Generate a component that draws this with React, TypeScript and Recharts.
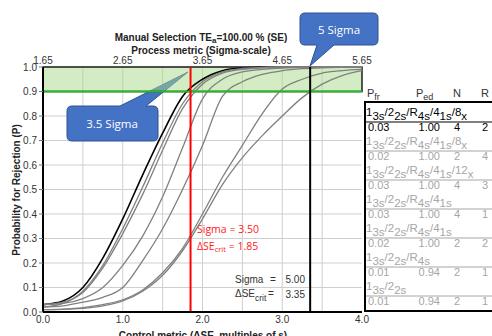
import React from 'react';
import {
  ComposedChart,
  Line,
  XAxis,
  YAxis,
  CartesianGrid,
  ReferenceArea,
  ReferenceLine,
  Customized,
} from 'recharts';

// control metric (ΔSE, multiples of s)
const DELTA_SE = [0, 0.25, 0.5, 0.75, 1, 1.25, 1.5, 1.75, 2, 2.25, 2.5, 2.75, 3, 3.25, 3.5, 3.75, 4];

// probability for rejection, one array per QC procedure (table order)
const P_8X_N4R2 = [0.03, 0.045, 0.1, 0.22, 0.38, 0.56, 0.73, 0.88, 0.95, 0.985, 0.996, 0.999, 1, 1, 1, 1, 1];
const P_8X_N2R4 = [0.02, 0.035, 0.085, 0.19, 0.34, 0.51, 0.69, 0.85, 0.94, 0.98, 0.994, 0.998, 1, 1, 1, 1, 1];
const P_12X_N4R3 = [0.03, 0.04, 0.08, 0.18, 0.32, 0.48, 0.66, 0.83, 0.93, 0.975, 0.99, 0.997, 1, 1, 1, 1, 1];
const P_41S_N4R1 = [0.03, 0.035, 0.055, 0.1, 0.19, 0.31, 0.47, 0.67, 0.87, 0.95, 0.98, 0.99, 0.996, 0.998, 1, 1, 1];
const P_41S_N2R2 = [0.02, 0.025, 0.04, 0.06, 0.1, 0.21, 0.34, 0.5, 0.68, 0.88, 0.94, 0.97, 0.985, 0.993, 0.997, 0.999, 1];
const P_R4S_N2R1 = [0.01, 0.012, 0.018, 0.03, 0.05, 0.09, 0.16, 0.26, 0.4, 0.55, 0.68, 0.81, 0.91, 0.95, 0.975, 0.985, 0.99];
const P_22S_N2R1 = [0.01, 0.011, 0.015, 0.025, 0.045, 0.085, 0.15, 0.25, 0.38, 0.52, 0.63, 0.72, 0.8, 0.875, 0.93, 0.965, 0.985];

const X_TICKS = [0, 1, 2, 3, 4];
// sigma scale = ΔSE + 1.65
const SIGMA_OFFSET = 1.65;
const Y_TICKS = [0, 0.1, 0.2, 0.3, 0.4, 0.5, 0.6, 0.7, 0.8, 0.9, 1];
const GRID_X = [0.5, 1, 1.5, 2, 2.5, 3, 3.5];

const SIGMA_LOW = 3.5;
const SE_CRIT_LOW = 1.85;
const SIGMA_HIGH = 5.0;
const SE_CRIT_HIGH = 3.35;
const P_TARGET = 0.9;

// table on the right
const RULES = [
  [['1', '3s'], ['/2', '2s'], ['/R', '4s'], ['/4', '1s'], ['/8', 'x']],
  [['1', '3s'], ['/2', '2s'], ['/R', '4s'], ['/4', '1s'], ['/8', 'x']],
  [['1', '3s'], ['/2', '2s'], ['/R', '4s'], ['/4', '1s'], ['/12', 'x']],
  [['1', '3s'], ['/2', '2s'], ['/R', '4s'], ['/4', '1s']],
  [['1', '3s'], ['/2', '2s'], ['/R', '4s'], ['/4', '1s']],
  [['1', '3s'], ['/2', '2s'], ['/R', '4s']],
  [['1', '3s'], ['/2', '2s']],
];
const P_FR = ['0.03', '0.02', '0.03', '0.03', '0.02', '0.01', '0.01'];
const P_ED = ['1.00', '1.00', '1.00', '1.00', '1.00', '0.94', '0.94'];
const N_CTRL = ['4', '2', '4', '4', '2', '2', '2'];
const R_RUNS = ['2', '4', '3', '1', '2', '1', '1'];

const SERIES = ['a', 'b', 'c', 'd', 'e', 'f', 'g'];
const data = DELTA_SE.map((x, i) => ({
  x,
  a: P_8X_N4R2[i],
  b: P_8X_N2R4[i],
  c: P_12X_N4R3[i],
  d: P_41S_N4R1[i],
  e: P_41S_N2R2[i],
  f: P_R4S_N2R1[i],
  g: P_22S_N2R1[i],
}));

const ARIAL = 'Liberation Sans, Arial, sans-serif';
const CALIBRI = 'Open Sans, Noto Sans, sans-serif';

function Table() {
  const left = 366;
  return (
    <g fontFamily={ARIAL}>
      <text x={367} y={97} fontSize={11} fill="#333">
        P<tspan fontSize={9} dy={3}>fr</tspan>
      </text>
      <text x={416} y={97} fontSize={11} fill="#333">
        P<tspan fontSize={9} dy={3}>ed</tspan>
      </text>
      <text x={457} y={97} fontSize={11} fill="#333" textAnchor="middle">N</text>
      <text x={485} y={97} fontSize={11} fill="#333" textAnchor="middle">R</text>
      <rect x={365} y={102} width={140} height={209} fill="#fff" stroke="#000" strokeWidth={2} />
      {RULES.map((rule, i) => {
        const yl = 116 + 29 * i;
        const yv = 131 + 29 * i;
        const col = i === 0 ? '#000' : '#a6a6a6';
        return (
          <g key={i} fill={col}>
            <text x={left} y={yl} fontSize={11.5}>
              {rule.map(([m, s], k) => (
                <React.Fragment key={k}>
                  <tspan dy={k === 0 ? 0 : -4}>{m}</tspan>
                  <tspan dy={4}>{s}</tspan>
                </React.Fragment>
              ))}
            </text>
            <line x1={366} x2={492} y1={yl + 6} y2={yl + 6} stroke={col} strokeWidth={1} />
            <text x={368} y={yv} fontSize={11}>{P_FR[i]}</text>
            <text x={440} y={yv} fontSize={11} textAnchor="end">{P_ED[i]}</text>
            <text x={457} y={yv} fontSize={11} textAnchor="middle">{N_CTRL[i]}</text>
            <text x={485} y={yv} fontSize={11} textAnchor="middle">{R_RUNS[i]}</text>
          </g>
        );
      })}
    </g>
  );
}

function Overlay() {
  return (
    <g>
      <text x={201} y={41} textAnchor="middle" fontFamily={ARIAL} fontSize={10} fontWeight="bold" fill="#222">
        Manual Selection  TE<tspan fontSize={8} dy={2}>a</tspan>
        <tspan dy={-2}>=100.00 % (SE)</tspan>
      </text>
      <text x={201} y={54} textAnchor="middle" fontFamily={ARIAL} fontSize={10} fontWeight="bold" fill="#222">
        Process metric (Sigma-scale)
      </text>
      <text x={203} y={339} textAnchor="middle" fontFamily={ARIAL} fontSize={10} fontWeight="bold" fill="#222">
        Control metric (ΔSE, multiples of s)
      </text>
      <text
        transform="translate(20,190) rotate(-90)"
        textAnchor="middle"
        fontFamily={ARIAL}
        fontSize={10}
        fontWeight="bold"
        fill="#222"
      >
        Probability for Rejection (P)
      </text>

      {/* 3.5 sigma callout */}
      <path
        d="M72,106 L120,106 L188,72 L146,106 L153,106 Q158,106 158,111 L158,136 Q158,141 153,141 L72,141 Q67,141 67,136 L67,111 Q67,106 72,106 Z"
        fill="#4472c4"
        stroke="#2f528f"
        strokeWidth={1}
      />
      <text x={112} y={128} textAnchor="middle" fontFamily={CALIBRI} fontSize={11.5} fill="#fff">
        {SIGMA_LOW.toFixed(1)} Sigma
      </text>

      {/* 5 sigma callout */}
      <path
        d="M305,13 L373,13 Q378,13 378,18 L378,40 Q378,45 373,45 L334,45 L310,66 L317,45 L305,45 Q300,45 300,40 L300,18 Q300,13 305,13 Z"
        fill="#4472c4"
        stroke="#2f528f"
        strokeWidth={1}
      />
      <text x={339} y={34} textAnchor="middle" fontFamily={CALIBRI} fontSize={11.5} fill="#fff">
        {SIGMA_HIGH.toFixed(0)} Sigma
      </text>

      <g fontFamily={CALIBRI} fontSize={10.5} fill="#ff2020">
        <text x={197} y={233}>Sigma = {SIGMA_LOW.toFixed(2)}</text>
        <text x={197} y={250}>
          ΔSE<tspan fontSize={7.5} dy={2}>crit</tspan>
          <tspan dy={-2}> = {SE_CRIT_LOW.toFixed(2)}</tspan>
        </text>
      </g>

      <g fontFamily={ARIAL} fontSize={10} fill="#333">
        <text x={235} y={283}>Sigma</text>
        <text x={273} y={283} textAnchor="middle">=</text>
        <text x={305} y={283} textAnchor="end">{SIGMA_HIGH.toFixed(2)}</text>
        <text x={235} y={297}>
          ΔSE<tspan fontSize={8.5} dy={4}>crit</tspan>
        </text>
        <text x={271} y={297} textAnchor="middle">=</text>
        <text x={305} y={298} textAnchor="end">{SE_CRIT_HIGH.toFixed(2)}</text>
      </g>

      <Table />
    </g>
  );
}

export default function App() {
  return (
    <div style={{ position: 'absolute', left: 0, top: 0, background: '#fff' }}>
      <ComposedChart width={492} height={336} data={data} margin={{ top: 47, right: 130, bottom: 8, left: 13 }}>
        <CartesianGrid stroke="#cfcfcf" verticalValues={GRID_X} horizontalValues={Y_TICKS} />
        <XAxis
          dataKey="x"
          type="number"
          domain={[0, 4]}
          ticks={X_TICKS}
          height={16}
          tickFormatter={(v: number) => v.toFixed(1)}
          tick={{ fontSize: 10, fill: '#333', fontFamily: ARIAL }}
          axisLine={{ stroke: '#000', strokeWidth: 2 }}
          tickLine={false}
          tickSize={0}
          tickMargin={4}
        />
        <XAxis
          xAxisId="top"
          dataKey="x"
          orientation="top"
          type="number"
          domain={[0, 4]}
          ticks={X_TICKS}
          height={20}
          tickFormatter={(v: number) => (v + SIGMA_OFFSET).toFixed(2)}
          tick={{ fontSize: 10, fill: '#333', fontFamily: ARIAL }}
          axisLine={false}
          tickLine={false}
          tickSize={0}
          tickMargin={3}
        />
        <YAxis
          type="number"
          domain={[0, 1]}
          ticks={Y_TICKS}
          width={30}
          tickFormatter={(v: number) => v.toFixed(1)}
          tick={{ fontSize: 10, fill: '#333', fontFamily: ARIAL }}
          axisLine={{ stroke: '#000', strokeWidth: 2 }}
          tickLine={{ stroke: '#777' }}
          tickSize={4}
          tickMargin={2}
        />
        {SERIES.map((k) => (
          <Line
            key={k}
            type="monotone"
            dataKey={k}
            stroke={k === 'a' ? '#000' : '#808080'}
            strokeWidth={k === 'a' ? 1.6 : 1.3}
            dot={false}
            isAnimationActive={false}
          />
        ))}
        <ReferenceArea
          x1={0}
          x2={4}
          y1={P_TARGET}
          y2={1}
          fill="#a9d98a"
          fillOpacity={0.5}
          stroke="#1e1e1e"
          strokeWidth={1.5}
        />
        <ReferenceLine y={P_TARGET} stroke="#2bb52b" strokeWidth={2} />
        <ReferenceLine x={SE_CRIT_LOW} stroke="#ff0000" strokeWidth={2} />
        <ReferenceLine x={SE_CRIT_HIGH} stroke="#000" strokeWidth={2} />
        <Customized component={Overlay} />
      </ComposedChart>
    </div>
  );
}
